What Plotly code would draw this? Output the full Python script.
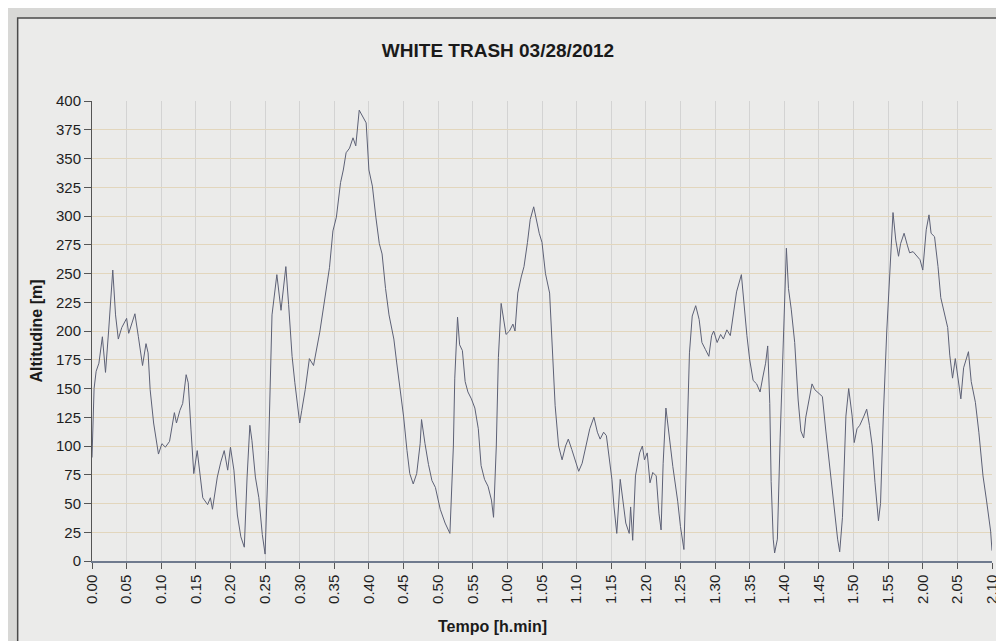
import plotly.graph_objects as go

# ---- data ----
tick_minutes = [0, 5, 10, 15, 20, 25, 30, 35, 40, 45, 50, 55,
                60, 65, 70, 75, 80, 85, 90, 95, 100, 105, 110, 115,
                120, 125, 130]
tick_labels = ["0.00", "0.05", "0.10", "0.15", "0.20", "0.25", "0.30", "0.35",
               "0.40", "0.45", "0.50", "0.55", "1.00", "1.05", "1.10", "1.15",
               "1.20", "1.25", "1.30", "1.35", "1.40", "1.45", "1.50", "1.55",
               "2.00", "2.05", "2.10"]

time_min = [0.0, 0.3, 0.6, 1.0, 1.5, 1.95, 2.4, 3.0, 3.4, 3.8, 4.3, 5.0, 5.3, 5.8, 6.2,
            6.7, 7.3, 7.8, 8.1, 8.4, 8.9, 9.6, 10.1, 10.6, 11.2, 11.9, 12.2, 12.7, 13.1,
            13.6, 13.9, 14.3, 14.7, 15.2, 15.5, 16.0, 16.7, 17.1, 17.4, 18.1, 18.6, 19.1,
            19.6, 20.0, 20.5, 21.0, 21.5, 22.0, 22.4, 22.8, 23.1, 23.6, 24.1, 24.6, 25.0,
            25.5, 26.0, 26.7, 27.3, 27.7, 28.0, 28.4, 28.9, 29.3, 30.0, 30.3, 30.8, 31.4,
            32.0, 32.9, 33.6, 34.3, 34.8, 35.3, 35.9, 36.3, 36.7, 37.2, 37.7, 38.1, 38.6,
            39.1, 39.6, 40.0, 40.5, 41.0, 41.5, 41.9, 42.4, 42.9, 43.6, 44.0, 44.5, 45.0,
            45.5, 45.9, 46.4, 46.9, 47.4, 47.6, 48.1, 48.6, 49.1, 49.6, 50.3, 51.0, 51.7,
            52.2, 52.4, 52.8, 53.1, 53.5, 53.9, 54.3, 54.8, 55.3, 55.8, 56.2, 56.7, 57.2,
            57.7, 58.0, 58.4, 58.7, 59.1, 59.5, 59.8, 60.3, 60.8, 61.1, 61.5, 62.0, 62.4,
            62.9, 63.3, 63.8, 64.3, 64.6, 65.0, 65.5, 66.1, 66.5, 66.9, 67.4, 67.9, 68.4,
            68.8, 69.3, 69.8, 70.3, 70.8, 71.4, 71.9, 72.5, 73.0, 73.4, 73.9, 74.3, 74.7,
            75.1, 75.4, 75.8, 76.3, 76.7, 77.1, 77.6, 77.8, 78.1, 78.5, 79.1, 79.5, 79.8,
            80.2, 80.6, 81.0, 81.5, 81.9, 82.2, 82.5, 82.9, 83.4, 83.9, 84.6, 85.0, 85.5,
            86.0, 86.3, 86.7, 87.2, 87.7, 88.1, 88.6, 89.1, 89.5, 89.8, 90.3, 90.8, 91.2,
            91.7, 92.2, 92.7, 93.1, 93.8, 94.1, 94.6, 95.0, 95.5, 96.0, 96.5, 96.9, 97.3,
            97.6, 97.9, 98.1, 98.4, 98.6, 99.0, 99.4, 99.9, 100.3, 100.6, 101.0, 101.5,
            102.0, 102.4, 102.8, 103.1, 103.6, 104.0, 104.4, 105.0, 105.5, 106.0, 106.5,
            106.9, 107.4, 107.7, 108.0, 108.4, 108.9, 109.3, 109.8, 110.1, 110.5, 110.9,
            111.5, 111.9, 112.3, 112.7, 113.1, 113.6, 113.9, 114.3, 114.8, 115.3, 115.7,
            116.1, 116.5, 116.8, 117.3, 117.8, 118.1, 118.6, 119.1, 119.6, 120.0, 120.5,
            120.9, 121.2, 121.7, 122.2, 122.6, 123.1, 123.6, 123.9, 124.3, 124.7, 125.0,
            125.5, 125.9, 126.6, 127.0, 127.6, 128.1, 128.7, 129.2, 129.8, 130.0]

altitude_m = [90, 150, 165, 172, 195, 164, 200, 253, 214, 193, 203, 211, 198, 208, 215,
              195, 170, 189, 181, 149, 120, 93, 102, 99, 104, 129, 120, 131, 137,
              162, 155, 114, 76, 96, 81, 55, 49, 55, 45, 73, 86, 96,
              79, 99, 79, 40, 21, 12, 73, 118, 105, 73, 55, 23, 6,
              96, 214, 249, 218, 240, 256, 223, 178, 155, 120, 131, 149, 176,
              170, 199, 226, 255, 287, 299, 329, 340, 355, 359, 368, 361, 392,
              386, 381, 340, 326, 299, 276, 267, 237, 214, 193, 173, 149, 126,
              96, 76, 67, 76, 102, 123, 102, 84, 70, 64, 45, 33, 24,
              100, 159, 212, 188, 183, 156, 147, 141, 133, 115, 83, 71, 65,
              53, 38, 100, 177, 224, 206, 197, 200, 206, 200, 233, 247, 256,
              277, 297, 308, 294, 285, 277, 250, 233, 183, 135, 100, 88, 100,
              106, 97, 88, 78, 85, 100, 115, 125, 112, 106, 112, 109, 88,
              71, 47, 24, 71, 53, 33, 24, 47, 18, 74, 94, 100, 88,
              94, 68, 77, 74, 41, 27, 85, 133, 106, 82, 52, 30, 10,
              107, 181, 213, 222, 210, 190, 184, 178, 196, 200, 190, 197, 193,
              201, 196, 216, 234, 249, 228, 196, 175, 157, 154, 147, 160, 172,
              187, 137, 69, 19, 7, 19, 107, 210, 272, 237, 219, 190,
              140, 113, 107, 125, 140, 154, 149, 146, 143, 113, 84,
              60, 31, 19, 8, 38, 126, 150, 126, 103, 115, 118,
              126, 132, 118, 100, 68, 35, 50, 126, 200, 259, 303,
              279, 265, 276, 285, 274, 268, 269, 265, 262, 253, 288,
              301, 285, 282, 256, 229, 215, 203, 179, 159, 176, 162,
              141, 168, 182, 156, 138, 112, 74, 53, 26, 9]

y_ticks = list(range(0, 401, 25))

# ---- figure ----
W, H = 1004, 641
L, R, T, B = 84, 12, 93, 88
pw, ph = W - L - R, H - T - B


def px_x(p):
    return (p - L) / pw


def px_y(p):
    return (H - B - p) / ph


FONT = "Liberation Sans, Arial, sans-serif"

fig = go.Figure()
fig.add_trace(go.Scatter(
    x=time_min, y=altitude_m, mode="lines",
    line=dict(color="#5d6176", width=1),
    showlegend=False, hoverinfo="skip"))

fig.update_layout(
    width=W, height=H,
    margin=dict(l=L, r=R, t=T, b=B),
    paper_bgcolor="#d8d8d6",
    plot_bgcolor="rgba(0,0,0,0)",
    font=dict(family=FONT, size=15, color="#1e1e1e"),
    title=dict(text="<b>WHITE TRASH 03/28/2012</b>", x=490 / W, xref="container",
               y=1 - 42 / H, yref="container", xanchor="center", yanchor="middle",
               font=dict(family=FONT, size=19, color="#1a1a1a")),
    shapes=[dict(type="rect", xref="paper", yref="paper", layer="below",
                 x0=px_x(9), x1=px_x(1012), y0=px_y(638), y1=px_y(10),
                 fillcolor="#ebebea", line=dict(color="#4a4a4a", width=1.5))],
    annotations=[
        dict(text="<b>Altitudine [m]</b>", xref="paper", yref="paper",
             x=px_x(27), y=0.5, xanchor="center", yanchor="middle",
             textangle=-90, showarrow=False,
             font=dict(family=FONT, size=16, color="#1a1a1a")),
        dict(text="<b>Tempo [h.min]</b>", xref="paper", yref="paper",
             x=px_x(488), y=px_y(618), xanchor="center", yanchor="middle",
             showarrow=False,
             font=dict(family=FONT, size=16, color="#1a1a1a")),
    ],
)

fig.update_xaxes(
    range=[0, 130], tickmode="array", tickvals=tick_minutes, ticktext=tick_labels,
    tickangle=-90, ticks="outside", ticklen=6, tickcolor="#555",
    showline=True, linecolor="#6f7a8e", linewidth=1.5,
    showgrid=True, gridcolor="#d3d3d3", gridwidth=1, zeroline=False,
    tickfont=dict(family=FONT, size=15, color="#1e1e1e"))

fig.update_yaxes(
    range=[0, 400], tickmode="array", tickvals=y_ticks,
    ticks="outside", ticklen=7, tickcolor="#555",
    showline=True, linecolor="#555", linewidth=1,
    showgrid=True, gridcolor="#e2d6bd", gridwidth=1, zeroline=False,
    tickfont=dict(family=FONT, size=15, color="#1e1e1e"))

fig.write_html("out.html")
